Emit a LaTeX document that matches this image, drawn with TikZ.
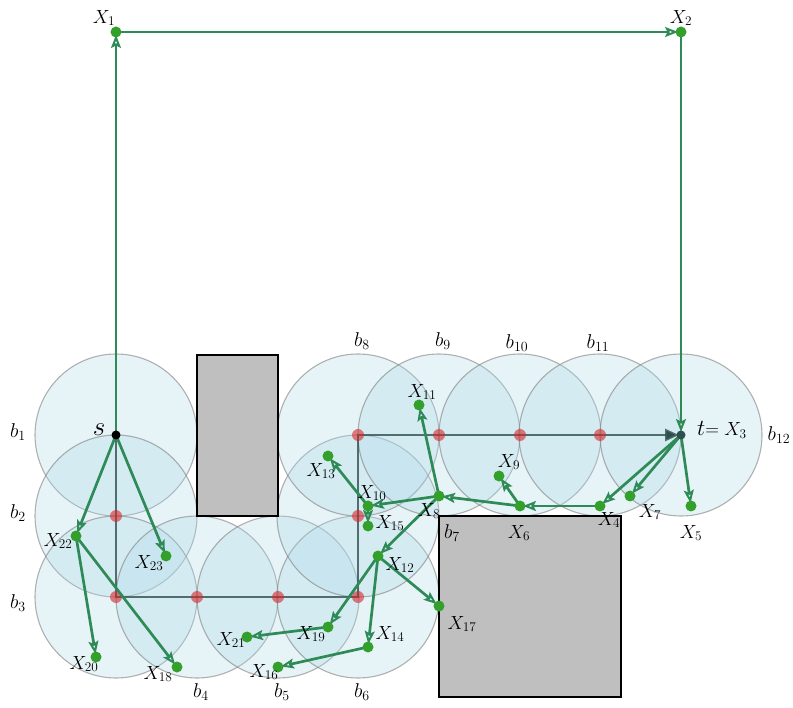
\RequirePackage{fix-cm}
\documentclass[tikz,border=0pt]{standalone}
\usetikzlibrary{arrows.meta}
\definecolor{lb}{HTML}{ADD8E6}
\definecolor{sg}{HTML}{2E8B57}
\definecolor{ptg}{HTML}{33A02C}
\definecolor{wpred}{HTML}{D62728}
\definecolor{pathc}{HTML}{2F4F4F}
\begin{document}
\begin{tikzpicture}[x=1pt,y=-1pt,
  ball/.style={draw=gray, draw opacity=0.6, line width=1.1pt, fill=lb, fill opacity=0.3},
  obst/.style={draw=black, line width=1.1pt, fill=black!25},
  pathline/.style={draw=pathc, draw opacity=0.8, line width=2.8pt},
  edge/.style={draw=sg, line width=2.7pt, -{Stealth[open, length=13pt, width=10pt, inset=2.5pt, line width=2pt]}, shorten >=3pt},
  gdot/.style={circle, fill=ptg, inner sep=0pt, minimum size=11pt},
  rdot/.style={circle, fill=wpred, fill opacity=0.6, inner sep=0pt, minimum size=12pt},
  lab/.style={inner sep=0pt, font=\fontsize{19}{22}\selectfont},
  blab/.style={inner sep=0pt, font=\fontsize{20}{23}\selectfont}
]
\useasboundingbox (0,0) rectangle (793,708);
% balls
\foreach \x/\y in {116/435,116/516,116/597,197/597,278/597,358/597,358/516,358/435,439/435,520/435,600/435,681/435}
  \draw[ball] (\x,\y) circle[radius=81];
% obstacles
\draw[obst] (197,355) rectangle (278,516);
\draw[obst] (439,516) rectangle (621,697);
% ball labels
\node[blab] (b1) at (18,432) {$b_1$};
\node[blab] (b2) at (18,513) {$b_2$};
\node[blab] (b3) at (18,603) {$b_3$};
\node[blab] (b4) at (201,692) {$b_4$};
\node[blab] (b5) at (282,692) {$b_5$};
\node[blab] (b6) at (362,692) {$b_6$};
\node[blab] (b7) at (452,533) {$b_7$};
\node[blab] (b8) at (362,341) {$b_8$};
\node[blab] (b9) at (443,341) {$b_9$};
\node[blab] (b10) at (517,343) {$b_{10}$};
\node[blab] (b11) at (598,343) {$b_{11}$};
\node[blab] (b12) at (779,435) {$b_{12}$};
% waypoints
\coordinate (s) at (116,435);
\coordinate (t) at (681,435);
\coordinate (w1) at (116,516);
\coordinate (w2) at (116,597);
\coordinate (w3) at (197,597);
\coordinate (w4) at (278,597);
\coordinate (w5) at (358,597);
\coordinate (w6) at (358,516);
\coordinate (w7) at (358,435);
\coordinate (w8) at (439,435);
\coordinate (w9) at (520,435);
\coordinate (w10) at (600,435);
\draw[pathline] (s) -- (w1) -- (w2) -- (w3) -- (w4) -- (w5) -- (w6) -- (w7) -- (w8) -- (w9) -- (w10);
\draw[pathline, -{Triangle[length=14pt, width=12pt]}, shorten >=2pt] (w10) -- (t);
\foreach \w in {w1,w2,w3,w4,w5,w6,w7,w8,w9,w10}
  \node[rdot] at (\w) {};
% tree points
\coordinate (X1) at (116,32);
\coordinate (X2) at (681,32);
\coordinate (X3) at (681,435);
\coordinate (X4) at (600,506);
\coordinate (X5) at (691,506);
\coordinate (X6) at (520,506);
\coordinate (X7) at (630,496);
\coordinate (X8) at (439,496);
\coordinate (X9) at (499,476);
\coordinate (X10) at (368,506);
\coordinate (X11) at (419,405);
\coordinate (X12) at (378,556);
\coordinate (X13) at (328,456);
\coordinate (X14) at (368,647);
\coordinate (X15) at (368,526);
\coordinate (X16) at (278,667);
\coordinate (X17) at (439,606);
\coordinate (X18) at (177,667);
\coordinate (X19) at (328,627);
\coordinate (X20) at (96,657);
\coordinate (X21) at (247,637);
\coordinate (X22) at (76,536);
\coordinate (X23) at (166,556);
% tree edges
\draw[edge] (s) -- (X1);
\draw[edge] (X1) -- (X2);
\draw[edge] (X2) -- (X3);
\draw[edge] (X3) -- (X4);
\draw[edge] (X3) -- (X5);
\draw[edge] (X3) -- (X7);
\draw[edge] (X4) -- (X6);
\draw[edge] (X6) -- (X9);
\draw[edge] (X6) -- (X8);
\draw[edge] (X8) -- (X11);
\draw[edge] (X8) -- (X10);
\draw[edge] (X10) -- (X13);
\draw[edge] (X10) -- (X15);
\draw[edge] (X8) -- (X12);
\draw[edge] (X12) -- (X17);
\draw[edge] (X12) -- (X19);
\draw[edge] (X12) -- (X14);
\draw[edge] (X14) -- (X16);
\draw[edge] (X19) -- (X21);
\draw[edge] (s) -- (X22);
\draw[edge] (s) -- (X23);
\draw[edge] (X22) -- (X20);
\draw[edge] (X22) -- (X18);
% dots
\foreach \p in {X1,X2,X4,X5,X6,X7,X8,X9,X10,X11,X12,X13,X14,X15,X16,X17,X18,X19,X20,X21,X22,X23}
  \node[gdot] at (\p) {};
\node[circle, fill=black, inner sep=0pt, minimum size=9pt] (sdot) at (s) {};
\node[circle, fill=pathc, inner sep=0pt, minimum size=9pt] (tdot) at (t) {};
% labels
\node[inner sep=0pt, font=\fontsize{27}{30}\selectfont] (ls) at (99,430) {$s$};
\node[inner sep=0pt, anchor=west] (lt) at (697,430) {\fontsize{23}{26}\selectfont$t$\fontsize{19}{22}\selectfont$=X_3$};
\node[lab] (l1) at (104,18) {$X_1$};
\node[lab] (l2) at (681,18) {$X_2$};
\node[lab] (l4) at (609,520) {$X_4$};
\node[lab] (l5) at (691,533) {$X_5$};
\node[lab] (l6) at (519,533) {$X_6$};
\node[lab] (l7) at (650,512) {$X_7$};
\node[lab] (l8) at (429,511) {$X_8$};
\node[lab] (l9) at (509,462) {$X_9$};
\node[lab] (l10) at (372,493) {$X_{10}$};
\node[lab] (l11) at (422,392) {$X_{11}$};
\node[lab] (l12) at (400,565) {$X_{12}$};
\node[lab] (l13) at (321,471) {$X_{13}$};
\node[lab] (l14) at (390,634) {$X_{14}$};
\node[lab] (l15) at (390,523) {$X_{15}$};
\node[lab] (l16) at (264,672) {$X_{16}$};
\node[lab] (l17) at (462,624) {$X_{17}$};
\node[lab] (l18) at (158,674) {$X_{18}$};
\node[lab] (l19) at (311,634) {$X_{19}$};
\node[lab] (l20) at (84,664) {$X_{20}$};
\node[lab] (l21) at (231,640) {$X_{21}$};
\node[lab] (l22) at (58,541) {$X_{22}$};
\node[lab] (l23) at (149,563) {$X_{23}$};
\end{tikzpicture}
\end{document}
